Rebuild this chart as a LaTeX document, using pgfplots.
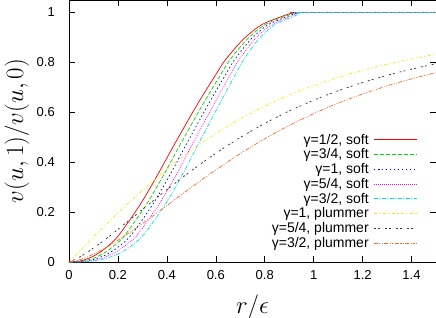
\documentclass[border=0pt]{standalone}
\usepackage{pgfplots}
\pgfplotsset{compat=1.18}
\usepackage{fontspec}
\setmainfont{Liberation Sans}
\definecolor{gpred}{rgb}{1,0,0}
\definecolor{gpgreen}{rgb}{0,0.85,0}
\definecolor{gpblue}{rgb}{0,0,1}
\definecolor{gpmag}{rgb}{1,0,1}
\definecolor{gpcyan}{rgb}{0,0.9,0.9}
\definecolor{gpyellow}{rgb}{1,0.9,0}
\definecolor{gpblack}{rgb}{0.2,0.2,0.2}
\definecolor{gporange}{rgb}{1,0.4,0.15}
\begin{document}
\begin{tikzpicture}
\begin{axis}[
  scale only axis,
  width=367pt, height=262pt,
  xmin=0, xmax=1.5, ymin=0, ymax=1.05,
  xtick={0,0.2,...,1.4}, ytick={0,0.2,...,1},
  tick align=inside, major tick length=6pt,
  axis line style={line width=0.8pt},
  every tick/.style={black, line width=0.6pt},
  /pgf/number format/assume math mode=true,
  tick label style={font=\fontsize{13}{15}\selectfont},
  xticklabel style={inner sep=0pt, yshift=-8pt},
  yticklabel style={inner sep=0pt, xshift=-14pt},
  xlabel={$r/\epsilon$}, ylabel={$v(u,1)/v(u,0)$},
  label style={font=\fontsize{23}{26}\selectfont},
  xlabel style={at={(axis description cs:0.5,-0.172)}, anchor=center},
  ylabel style={at={(axis description cs:-0.142,0.5)}, anchor=center},
  legend cell align=right,
  legend plot pos=right,
  legend image code/.code={\draw[mark repeat=2,mark phase=2,#1] plot coordinates {(0pt,0pt) (21.5pt,0pt) (43pt,0pt)};},
  legend style={draw=none, fill=none, at={(axis description cs:0.948,0.4885)}, anchor=north east,
    inner sep=0pt, outer sep=0pt, row sep=3.1pt,
    font=\fontsize{14}{16}\selectfont,
    nodes={inner ysep=0pt, inner xsep=4.5pt}},
  every axis plot/.append style={line width=0.7pt},
]
\addplot[gpred, smooth] coordinates {(0,0) (0.05,0.0053) (0.1,0.0235) (0.15,0.056) (0.204,0.108) (0.290,0.229) (0.362,0.349) (0.430,0.470) (0.524,0.631) (0.600,0.751) (0.640,0.811) (0.712,0.892) (0.786,0.950) (0.875,0.986) (0.915,0.998) (0.95,1) (1.5,1)};
\addlegendentry{γ=1/2, soft}
\addplot[gpgreen, smooth, dash pattern=on 4pt off 2pt] coordinates {(0,0) (0.05,0.003) (0.1,0.0153) (0.15,0.0398) (0.2,0.0785) (0.229,0.108) (0.3155,0.229) (0.387,0.349) (0.454,0.470) (0.5465,0.631) (0.620,0.751) (0.6585,0.811) (0.7275,0.892) (0.799,0.950) (0.887,0.986) (0.922,0.998) (0.952,1) (1.5,1)};
\addlegendentry{γ=3/4, soft}
\addplot[gpblue, smooth, dash pattern=on 1.5pt off 2.5pt] coordinates {(0,0) (0.05,0.0018) (0.1,0.0102) (0.15,0.0286) (0.2,0.0594) (0.254,0.108) (0.341,0.229) (0.4125,0.349) (0.4785,0.470) (0.569,0.631) (0.640,0.751) (0.677,0.811) (0.743,0.892) (0.8125,0.950) (0.8985,0.986) (0.93,0.998) (0.955,1) (1.5,1)};
\addlegendentry{γ=1, soft}
\addplot[gpmag, smooth, dash pattern=on 0.8pt off 1.2pt] coordinates {(0,0) (0.05,0.001) (0.1,0.0068) (0.15,0.0204) (0.2,0.0445) (0.25,0.0817) (0.279,0.108) (0.3665,0.229) (0.438,0.349) (0.503,0.470) (0.5915,0.631) (0.660,0.751) (0.6955,0.811) (0.7585,0.892) (0.826,0.950) (0.910,0.986) (0.937,0.998) (0.958,1) (1.5,1)};
\addlegendentry{γ=5/4, soft}
\addplot[gpcyan, smooth, dash pattern=on 4pt off 1.5pt on 1pt off 1.5pt] coordinates {(0,0) (0.05,0.0006) (0.1,0.0042) (0.15,0.0139) (0.2,0.0321) (0.25,0.0616) (0.304,0.108) (0.392,0.229) (0.463,0.349) (0.527,0.470) (0.614,0.631) (0.680,0.751) (0.714,0.811) (0.774,0.892) (0.839,0.950) (0.922,0.986) (0.945,0.998) (0.962,1) (1.5,1)};
\addlegendentry{γ=3/2, soft}
\addplot[gpyellow, smooth, dash pattern=on 3pt off 2.5pt on 1pt off 2.5pt] coordinates {(0,0) (0.05,0.0499) (0.1,0.0995) (0.15,0.1483) (0.2,0.1961) (0.3,0.2873) (0.4,0.3714) (0.5,0.4472) (0.6,0.5145) (0.7,0.5735) (0.8,0.6247) (0.9,0.6690) (1.0,0.7071) (1.1,0.7399) (1.2,0.7682) (1.3,0.7926) (1.4,0.8137) (1.5,0.8321)};
\addlegendentry{γ=1, plummer}
\addplot[gpblack, smooth, dash pattern=on 2pt off 2pt on 2pt off 5pt] coordinates {(0,0) (0.05,0.0236) (0.1,0.0559) (0.15,0.0921) (0.2,0.1305) (0.3,0.2104) (0.4,0.2900) (0.5,0.3657) (0.6,0.4357) (0.7,0.4990) (0.8,0.5554) (0.9,0.6050) (1.0,0.6484) (1.1,0.6863) (1.2,0.7192) (1.3,0.7479) (1.4,0.7729) (1.5,0.7947)};
\addlegendentry{γ=5/4, plummer}
\addplot[gporange, smooth, dash pattern=on 4pt off 1.5pt on 1pt off 1.5pt on 1pt off 1.5pt] coordinates {(0,0) (0.05,0.0112) (0.1,0.0314) (0.15,0.0571) (0.2,0.0869) (0.3,0.1540) (0.4,0.2263) (0.5,0.2991) (0.6,0.3690) (0.7,0.4343) (0.8,0.4938) (0.9,0.5472) (1.0,0.5946) (1.1,0.6365) (1.2,0.6733) (1.3,0.7057) (1.4,0.7341) (1.5,0.7590)};
\addlegendentry{γ=3/2, plummer}
\end{axis}
\pgfresetboundingbox
\path (-69pt,-55pt) rectangle (367pt,262pt);
\end{tikzpicture}
\end{document}
